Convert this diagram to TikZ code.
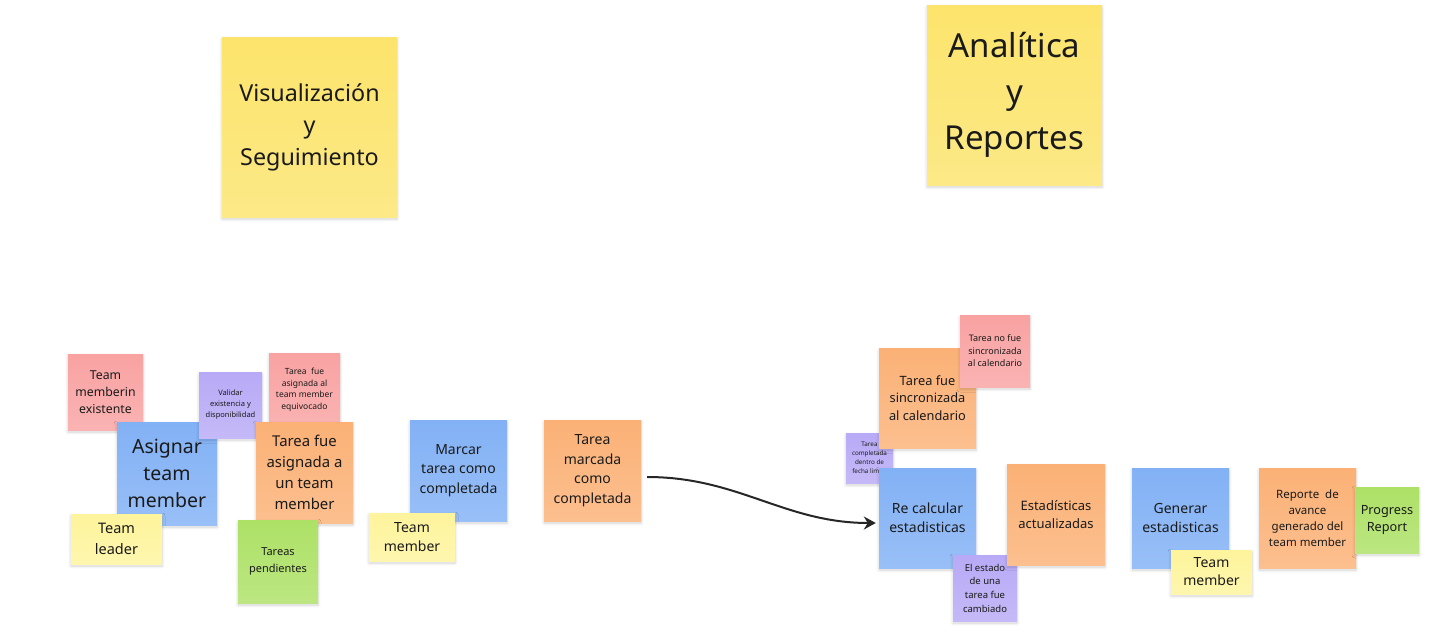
\documentclass[tikz,border=0pt]{standalone}
\usepackage{fontspec}
\setmainfont{Noto Sans}
\usetikzlibrary{shadows.blur,arrows.meta,calc}
\definecolor{ytitle}{HTML}{FCE46C}
\definecolor{ylight}{HTML}{FEF49C}
\definecolor{npink}{HTML}{F9A2A2}
\definecolor{nblue}{HTML}{82B1F5}
\definecolor{npurple}{HTML}{B8AAF6}
\definecolor{norange}{HTML}{FBB176}
\definecolor{ngreen}{HTML}{ADE166}
\definecolor{ntext}{HTML}{1A1A1A}
\tikzset{
  note/.style={rectangle, inner sep=0pt, align=center, text=ntext,
    blur shadow={shadow xshift=0pt, shadow yshift=-2pt, shadow blur steps=6, shadow opacity=18, shadow blur radius=3pt}},
  notec/.style={note, top color=#1, bottom color=#1!82!white},
  fs/.style n args={2}{font={\fontsize{#1}{#2}\selectfont}},
  sz/.style 2 args={minimum width=#1pt, minimum height=#2pt},
  flow/.style={draw=black!85, line width=2pt, -{Stealth[length=12pt,width=13pt,inset=4pt]}},
}
\begin{document}
\begin{tikzpicture}[x=1pt,y=-1pt]
\useasboundingbox (0,0) rectangle (1437,629);
% titles
\node[notec=ytitle, sz={175}{180}, fs={23.3}{32}] (vis) at (309.5,127) {Visualización\\y\\Seguimiento};
\node[notec=ytitle, sz={175}{180}, fs={33}{46}] (ana) at (1014.5,95) {Analítica\\y\\Reportes};
% left cluster
\node[notec=npink, sz={75}{76}, fs={12.3}{17}] (tme) at (105.5,392) {Team\\memberin\\existente};
\node[notec=nblue, sz={100}{103}, fs={19.5}{27}] (asg) at (167,473.5) {Asignar\\team\\member};
\node[notec=npurple, sz={63}{66}, fs={7.5}{11}] (val) at (230.5,405) {Validar\\existencia y\\disponibilidad};
\node[notec=npink, sz={71}{74}, fs={8.5}{11.5}] (teq) at (304.5,390) {Tarea\ \ fue\\asignada al\\team member\\equivocado};
\node[notec=norange, sz={97}{101}, fs={14.9}{21}] (tfa) at (304.5,472.5) {Tarea fue\\asignada a\\un team\\member};
\node[notec=ylight, sz={91}{50}, fs={14.5}{21}] (tl) at (116.5,539) {Team\\leader};
\node[notec=ngreen, sz={80}{83}, fs={11}{17}] (tp) at (278,561.5) {Tareas\\pendientes};
% middle
\node[notec=nblue, sz={97}{101}, fs={14}{19.5}] (mtc) at (458.5,470.5) {Marcar\\tarea como\\completada};
\node[notec=ylight, sz={86}{48}, fs={14}{19}] (tm1) at (412,537) {Team\\member};
\node[notec=norange, sz={97}{101}, fs={14}{19.5}] (tmc) at (592.5,470.5) {Tarea\\marcada\\como\\completada};
% right cluster
\node[notec=npurple, sz={47}{50}, fs={6.3}{9}] (tcd) at (869.5,458) {Tarea\\completada\\dentro de\\fecha limite};
\node[notec=norange, sz={97}{100}, fs={12.8}{17.5}] (tfs) at (927.5,398) {Tarea fue\\sincronizada\\al calendario};
\node[notec=npink, sz={70}{72}, fs={9}{12.5}] (tns) at (995,351) {Tarea no fue\\sincronizada\\al calendario};
\node[notec=nblue, sz={97}{100}, fs={14}{19}] (rce) at (927.5,518) {Re calcular\\estadisticas};
\node[notec=npurple, sz={64}{66}, fs={9.5}{13.7}] (eet) at (985,588) {El estado\\de una\\tarea fue\\cambiado};
\node[notec=norange, sz={98}{101}, fs={13}{18}] (eac) at (1056,514.5) {Estadísticas\\actualizadas};
\node[notec=nblue, sz={97}{100}, fs={14}{19}] (gen) at (1180.5,518) {Generar\\estadisticas};
\node[notec=ylight, sz={81}{44}, fs={14}{18}] (tm2) at (1211.5,572) {Team\\member};
\node[notec=norange, sz={97}{100}, fs={11.5}{16}] (rep) at (1307.5,518) {Reporte\ \ de\\avance\\generado del\\team member};
\node[notec=ngreen, sz={64}{66}, fs={12.7}{17}] (pr) at (1387,520) {Progress\\Report};
% connector
\draw[flow] ($(tmc.east)+(6,6.5)$) to[out=0,in=180] ($(rce.west)+(-3,5)$);
\end{tikzpicture}
\end{document}
